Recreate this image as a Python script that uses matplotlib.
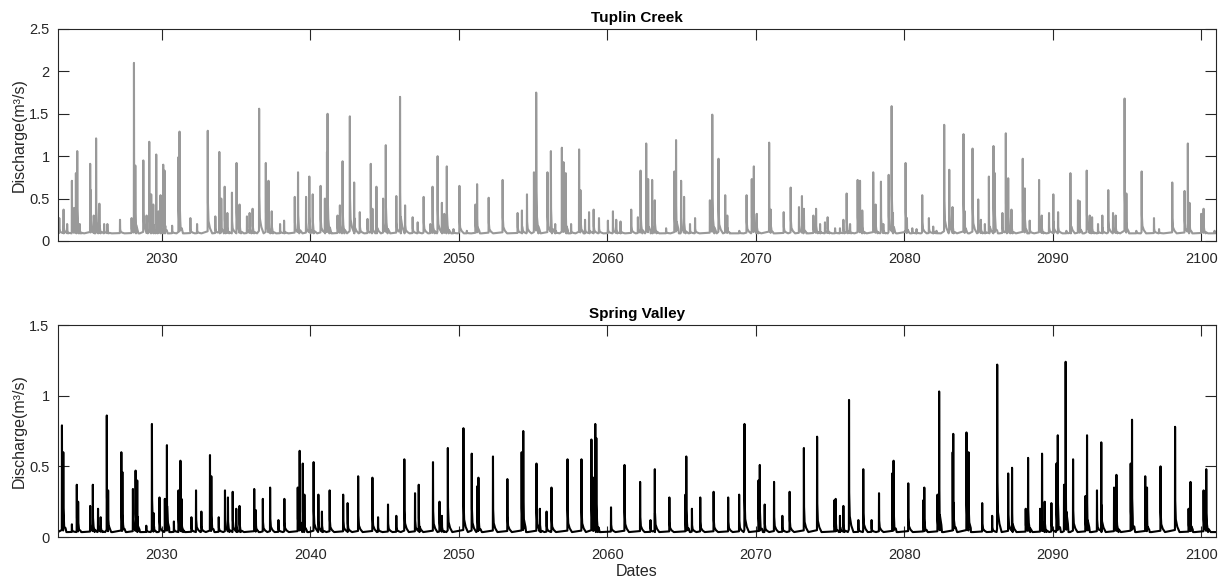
import numpy as np
import matplotlib
matplotlib.use("Agg")
import matplotlib.pyplot as plt

plt.rcParams["font.family"] = ["Liberation Sans", "DejaVu Sans"]

# -------------------------
# Data (peak events)
# -------------------------

tc_year = [
    2023.09, 2023.38, 2023.62, 2023.94, 2024.09, 2024.21, 2024.30, 2024.47,
    2025.17, 2025.21, 2025.41, 2025.57, 2025.79, 2026.11, 2026.33, 2027.18,
    2027.96, 2028.12, 2028.21, 2028.75, 2028.97, 2029.15, 2029.28, 2029.42,
    2029.62, 2029.78, 2029.91, 2030.09, 2030.18, 2030.69, 2031.12, 2031.19,
    2031.92, 2032.37, 2033.09, 2033.60, 2033.87, 2034.00, 2034.23, 2034.41,
    2034.72, 2035.03, 2035.23, 2035.73, 2035.91, 2036.11, 2036.55, 2037.00,
    2037.18, 2037.40, 2037.96, 2038.23, 2038.95, 2039.17, 2039.71, 2039.93,
    2040.16, 2040.69, 2040.98, 2041.12, 2041.16, 2041.83, 2041.99, 2042.17,
    2042.66, 2042.95, 2043.33, 2043.85, 2044.07, 2044.18, 2044.45, 2044.90,
    2045.08, 2045.79, 2046.04, 2046.38, 2046.89, 2047.23, 2047.63, 2048.08,
    2048.23, 2048.57, 2048.86, 2049.02, 2049.19, 2049.64, 2050.04, 2050.54,
    2051.12, 2051.23, 2052.01, 2052.95, 2053.96, 2054.25, 2054.59, 2055.06,
    2055.21, 2055.97, 2056.20, 2056.49, 2056.94, 2057.05, 2057.20, 2057.56,
    2058.10, 2058.19, 2058.50, 2058.77, 2059.08, 2059.44, 2060.04, 2060.38,
    2060.60, 2060.89, 2061.61, 2062.06, 2062.24, 2062.62, 2062.75, 2063.02,
    2063.20, 2063.96, 2064.52, 2064.63, 2064.97, 2065.17, 2065.57, 2065.91,
    2066.91, 2067.07, 2067.49, 2067.94, 2068.08, 2068.89, 2069.38, 2069.73,
    2069.87, 2070.07, 2070.90, 2071.01, 2071.88, 2072.35, 2072.91, 2073.11,
    2073.24, 2073.88, 2074.06, 2074.33, 2074.66, 2074.84, 2075.34, 2075.67,
    2075.90, 2076.12, 2076.35, 2076.86, 2077.02, 2077.17, 2077.91, 2078.07,
    2078.43, 2078.59, 2078.95, 2079.15, 2079.24, 2080.09, 2080.18, 2080.54,
    2080.83, 2081.21, 2081.66, 2081.95, 2082.17, 2082.69, 2083.03, 2083.25,
    2083.99, 2084.08, 2084.60, 2084.98, 2085.16, 2085.43, 2085.70, 2086.01,
    2086.10, 2086.61, 2086.84, 2087.00, 2087.22, 2087.98, 2088.12, 2088.45,
    2089.08, 2089.26, 2089.75, 2090.04, 2090.36, 2090.92, 2091.19, 2091.70,
    2091.82, 2092.29, 2092.49, 2092.65, 2093.05, 2093.34, 2093.74, 2094.06,
    2094.24, 2094.84, 2094.96, 2095.63, 2095.99, 2096.82, 2097.16, 2098.05,
    2098.88, 2099.10, 2099.21, 2100.00, 2100.16, 2100.90,
]
tc_peak = [
    0.27, 0.37, 0.20, 0.71, 0.39, 0.80, 1.06, 0.20,
    0.91, 0.60, 0.30, 1.21, 0.44, 0.20, 0.20, 0.25,
    0.27, 2.10, 0.89, 0.95, 0.30, 1.17, 0.55, 0.43,
    1.02, 0.35, 0.54, 0.90, 0.83, 0.18, 0.99, 1.29,
    0.27, 0.20, 1.30, 0.29, 1.05, 0.50, 0.64, 0.33,
    0.57, 0.92, 0.43, 0.29, 0.33, 0.38, 1.56, 0.92,
    0.71, 0.35, 0.20, 0.24, 0.52, 0.81, 0.52, 0.76,
    0.55, 0.65, 0.50, 1.05, 1.50, 0.30, 0.42, 0.94,
    1.47, 0.69, 0.34, 0.26, 0.91, 0.38, 0.64, 0.50,
    1.13, 0.53, 1.70, 0.42, 0.28, 0.22, 0.52, 0.20,
    0.64, 1.00, 0.45, 0.32, 0.88, 0.14, 0.65, 0.12,
    0.43, 0.67, 0.51, 0.72, 0.33, 0.36, 0.55, 0.81,
    1.75, 0.81, 1.06, 0.20, 1.10, 0.93, 0.80, 0.20,
    1.08, 0.60, 0.25, 0.34, 0.37, 0.27, 0.24, 0.35,
    0.25, 0.23, 0.37, 0.28, 0.83, 1.15, 0.73, 0.72,
    0.48, 0.15, 0.82, 1.19, 0.71, 0.52, 0.20, 0.27,
    0.48, 1.49, 0.97, 0.54, 0.30, 0.12, 0.54, 0.73,
    0.88, 0.32, 1.16, 0.37, 0.34, 0.63, 0.40, 0.53,
    0.38, 0.30, 0.38, 0.20, 0.22, 0.28, 0.15, 0.15,
    0.25, 0.56, 0.20, 0.72, 0.71, 0.36, 0.81, 0.43,
    0.70, 0.20, 0.78, 1.59, 0.33, 0.92, 0.27, 0.15,
    0.14, 0.54, 0.27, 0.17, 0.12, 1.37, 0.84, 0.40,
    1.26, 0.35, 1.09, 0.49, 0.25, 0.20, 0.76, 1.12,
    0.80, 0.33, 1.27, 0.74, 0.37, 0.97, 0.62, 0.24,
    0.72, 0.30, 0.33, 0.55, 0.34, 0.12, 0.80, 0.48,
    0.47, 0.83, 0.30, 0.28, 0.20, 0.30, 0.60, 0.33,
    0.30, 1.68, 0.56, 0.12, 0.82, 0.27, 0.14, 0.69,
    0.59, 1.15, 0.45, 0.32, 0.38, 0.12,
]
tc_base = 0.09

sv_year = [
    2023.27, 2023.36, 2023.94, 2024.27, 2024.36, 2025.17, 2025.35, 2025.70,
    2025.88, 2026.29, 2026.38, 2027.27, 2027.34, 2028.05, 2028.23, 2028.34,
    2028.95, 2029.33, 2029.44, 2029.84, 2030.20, 2030.34, 2030.81, 2031.12,
    2031.25, 2031.32, 2031.99, 2032.30, 2032.66, 2033.24, 2033.33, 2033.83,
    2034.25, 2034.45, 2034.77, 2035.01, 2035.23, 2036.22, 2036.33, 2036.80,
    2037.29, 2037.85, 2038.25, 2039.15, 2039.28, 2039.49, 2039.60, 2040.22,
    2040.54, 2040.78, 2041.30, 2042.21, 2042.51, 2043.22, 2044.18, 2044.56,
    2045.23, 2045.79, 2046.33, 2047.05, 2047.30, 2048.26, 2048.70, 2048.86,
    2049.26, 2050.31, 2050.87, 2051.25, 2051.32, 2052.30, 2053.27, 2054.23,
    2054.34, 2055.23, 2055.46, 2055.91, 2056.24, 2057.32, 2058.26, 2058.93,
    2059.06, 2059.19, 2059.26, 2060.25, 2061.16, 2062.21, 2062.91, 2063.20,
    2064.18, 2065.26, 2065.32, 2065.70, 2066.26, 2067.16, 2068.14, 2068.88,
    2069.24, 2070.18, 2070.27, 2070.60, 2071.23, 2071.79, 2072.28, 2073.24,
    2074.13, 2075.29, 2075.38, 2075.67, 2075.90, 2076.28, 2076.91, 2077.24,
    2077.80, 2078.30, 2079.19, 2079.28, 2080.27, 2081.28, 2081.35, 2082.24,
    2082.35, 2083.26, 2083.30, 2084.19, 2084.33, 2085.25, 2085.92, 2086.26,
    2087.00, 2087.26, 2088.18, 2088.34, 2089.15, 2089.28, 2089.46, 2089.91,
    2090.25, 2090.34, 2090.76, 2090.87, 2091.37, 2092.20, 2092.31, 2092.98,
    2093.27, 2094.13, 2094.29, 2095.25, 2095.34, 2096.23, 2096.35, 2097.26,
    2098.24, 2099.15, 2099.28, 2100.16, 2100.34,
]
sv_peak = [
    0.79, 0.60, 0.09, 0.37, 0.25, 0.22, 0.37, 0.20,
    0.14, 0.86, 0.33, 0.60, 0.46, 0.34, 0.47, 0.40,
    0.08, 0.80, 0.17, 0.28, 0.27, 0.65, 0.11, 0.33,
    0.54, 0.27, 0.14, 0.33, 0.18, 0.58, 0.43, 0.14,
    0.33, 0.28, 0.32, 0.20, 0.22, 0.34, 0.19, 0.27,
    0.35, 0.12, 0.27, 0.35, 0.61, 0.52, 0.30, 0.53,
    0.30, 0.18, 0.33, 0.30, 0.24, 0.43, 0.42, 0.14,
    0.23, 0.15, 0.55, 0.31, 0.37, 0.53, 0.25, 0.15,
    0.63, 0.77, 0.59, 0.36, 0.42, 0.57, 0.41, 0.60,
    0.75, 0.52, 0.20, 0.18, 0.35, 0.55, 0.55, 0.69,
    0.42, 0.80, 0.70, 0.21, 0.51, 0.39, 0.12, 0.48,
    0.28, 0.30, 0.57, 0.20, 0.28, 0.32, 0.28, 0.30,
    0.80, 0.40, 0.51, 0.23, 0.39, 0.15, 0.32, 0.63,
    0.71, 0.26, 0.27, 0.15, 0.22, 0.97, 0.12, 0.48,
    0.12, 0.31, 0.45, 0.54, 0.38, 0.26, 0.35, 0.30,
    1.03, 0.60, 0.73, 0.74, 0.60, 0.24, 0.15, 1.22,
    0.45, 0.49, 0.20, 0.56, 0.20, 0.59, 0.25, 0.24,
    0.52, 0.72, 0.37, 1.24, 0.55, 0.29, 0.72, 0.33,
    0.67, 0.35, 0.44, 0.52, 0.83, 0.43, 0.35, 0.50,
    0.78, 0.20, 0.39, 0.33, 0.48,
]
sv_base = 0.035

x_start, x_end = 2023.0, 2101.0
x_ticks = [2030, 2040, 2050, 2060, 2070, 2080, 2090, 2100]


# -------------------------
# Build hydrograph path from peak events
# -------------------------

def hydrograph(years, peaks, base):
    xs = [x_start, x_end]
    ys = [base, base]
    for t, q in zip(years, peaks):
        d = q - base
        xs += [t - 0.01, t, t + 0.012, t + 0.05, t + 0.15, t + 0.3]
        ys += [base + 0.02 * d, q, base + 0.3 * d, base + 0.12 * d,
               base + 0.05 * d, base]
    xs = np.array(xs)
    ys = np.array(ys)
    order = np.argsort(xs, kind="stable")
    return xs[order], ys[order]


def style_axes(ax, ymax, yticks):
    ax.set_xlim(x_start, x_end)
    ax.set_ylim(0, ymax)
    ax.set_xticks(x_ticks)
    ax.set_yticks(yticks)
    ax.set_yticklabels([f"{v:g}" for v in yticks])
    ax.tick_params(direction="in", length=8, width=0.8, top=True, right=True,
                   labelsize=10.5, colors="#262626")
    ax.tick_params(axis="x", pad=8)
    ax.tick_params(axis="y", pad=6)
    for s in ax.spines.values():
        s.set_color("#262626")
        s.set_linewidth(0.8)
    ax.set_ylabel("Discharge(m³/s)", fontsize=11.5, color="#262626",
                  labelpad=2)


fig = plt.figure(figsize=(12.25, 5.8), dpi=100)

ax1 = fig.add_axes([0.0473, 0.5845, 0.9454, 0.3655])
x, y = hydrograph(tc_year, tc_peak, tc_base)
ax1.plot(x, y, color="#999999", linewidth=1.5)
style_axes(ax1, 2.5, [0, 0.5, 1, 1.5, 2, 2.5])
ax1.set_title("Tuplin Creek", fontsize=11, fontweight="bold", pad=5)

ax2 = fig.add_axes([0.0473, 0.0741, 0.9454, 0.3655])
x, y = hydrograph(sv_year, sv_peak, sv_base)
ax2.plot(x, y, color="black", linewidth=1.5)
style_axes(ax2, 1.5, [0, 0.5, 1, 1.5])
ax2.set_title("Spring Valley", fontsize=11, fontweight="bold", pad=5)
ax2.set_xlabel("Dates", fontsize=11.5, color="#262626", labelpad=1)

fig.savefig("out.png", dpi=100)
plt.close(fig)
